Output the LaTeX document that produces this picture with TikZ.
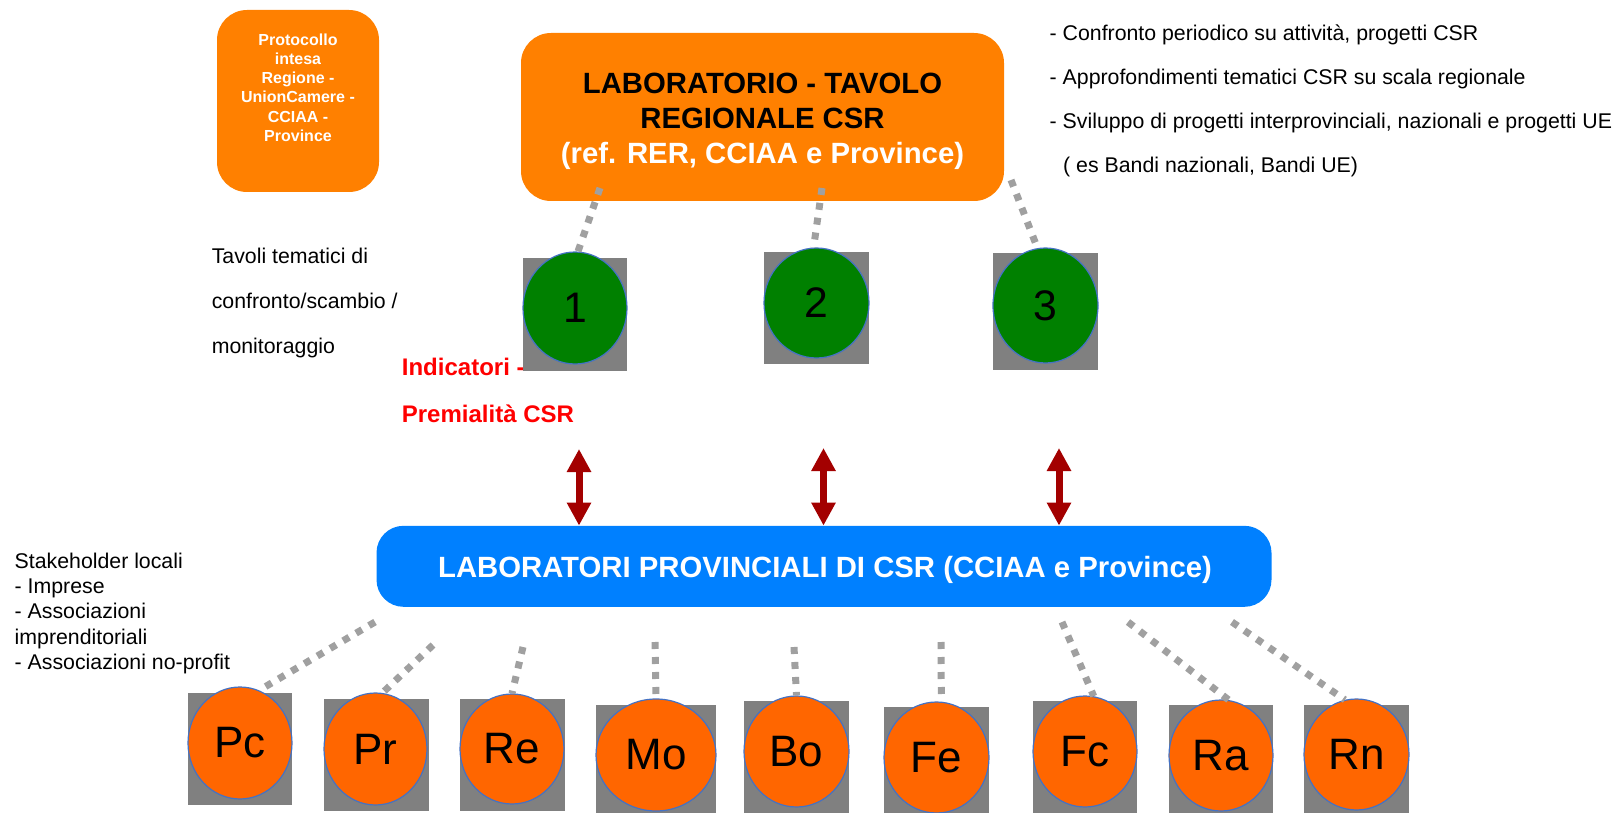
\documentclass[tikz,border=0pt]{standalone}
\usepackage{fontspec}
\setmainfont{Liberation Sans}
\usetikzlibrary{shapes.geometric,arrows.meta,calc}
\definecolor{orA}{RGB}{255,128,0}
\definecolor{orB}{RGB}{255,102,0}
\definecolor{grC}{RGB}{0,128,0}
\definecolor{blueB}{RGB}{0,128,255}
\definecolor{grayDot}{RGB}{160,160,160}
\definecolor{graySq}{RGB}{128,128,128}
\definecolor{arrR}{RGB}{163,0,0}
\definecolor{edgeB}{RGB}{68,114,196}
\definecolor{redT}{RGB}{255,0,0}
\begin{document}
\begin{tikzpicture}[x=1pt,y=-1pt,
  sq/.style={fill=graySq, draw=none, inner sep=0},
  gcirc/.style={ellipse, fill=grC, draw=edgeB, line width=1.2pt, inner sep=0, font=\fontsize{42.7}{42.7}\selectfont},
  ocirc/.style={ellipse, fill=orB, draw=edgeB, line width=1.2pt, inner sep=0, font=\fontsize{44}{44}\selectfont},
  dotline/.style={draw=grayDot, line width=7pt, dash pattern=on 7pt off 8pt},
  biarrow/.style={draw=arrR, line width=7pt, {Triangle[length=23pt,width=23pt]}-{Triangle[length=23pt,width=23pt]}},
  txt/.style={anchor=base west, inner sep=0, font=\fontsize{21.3}{25}\selectfont},
  redtxt/.style={anchor=base west, inner sep=0, text=redT, font=\bfseries\fontsize{24}{28}\selectfont},
  obox/.style={fill=orA, draw=none, rounded corners=30pt, inner sep=0},
  titletxt/.style={inner sep=0, align=center, font=\bfseries\fontsize{29.3}{35}\selectfont},
]
\useasboundingbox (0,0) rectangle (1618,813);

% Protocollo box
\node[obox, minimum width=162pt, minimum height=182pt] (prot) at (298,101) {};
\node[anchor=north, inner sep=0, align=center, text=white, font=\bfseries\fontsize{16}{19.2}\selectfont] (prottxt) at (298,33.5) {Protocollo\\intesa\\Regione -\\UnionCamere -\\CCIAA -\\Province};

% Regional box
\node[obox, minimum width=483pt, minimum height=168pt] (reg) at (762.5,117) {};
\node[titletxt] (regtxt) at (762.5,121) {LABORATORIO - TAVOLO\\REGIONALE CSR\\\textcolor{white}{(ref. RER, CCIAA e Province)}};

% Right list
\node[txt] (r1) at (1049.5,40.5) {- Confronto periodico su attività, progetti CSR};
\node[txt] (r2) at (1049.5,85) {- Approfondimenti tematici CSR su scala regionale};
\node[txt] (r3) at (1049.5,128.5) {- Sviluppo di progetti interprovinciali, nazionali e progetti UE};
\node[txt] (r4) at (1063,172.5) {( es Bandi nazionali, Bandi UE)};

% Left texts
\node[txt] (tv1) at (211.6,263.5) {Tavoli tematici di};
\node[txt] (tv2) at (211.6,308.5) {confronto/scambio /};
\node[txt] (tv3) at (211.6,353) {monitoraggio};
\node[redtxt] (ind1) at (401.7,375.5) {Indicatori -};
\node[redtxt] (ind2) at (401.7,422.5) {Premialità CSR};

\node[txt] (sh1) at (14.5,568.5) {Stakeholder locali};
\node[txt] (sh2) at (14.5,593.5) {- Imprese};
\node[txt] (sh3) at (14.5,618.5) {- Associazioni};
\node[txt] (sh4) at (14.5,644.5) {imprenditoriali};
\node[txt] (sh5) at (14.5,669.5) {- Associazioni no-profit};

% Green tables
\node[sq, minimum width=104pt, minimum height=113pt] (s1) at (575,314.5) {};
\node[gcirc, minimum width=104pt, minimum height=112pt] (c1) at (575,308) {1};
\node[sq, minimum width=105pt, minimum height=112pt] (s2) at (816.5,308) {};
\node[gcirc, minimum width=105pt, minimum height=110pt] (c2) at (816.5,303) {2};
\node[sq, minimum width=105pt, minimum height=116pt] (s3) at (1045.5,311.5) {};
\node[gcirc, minimum width=105pt, minimum height=115pt] (c3) at (1045.5,305.5) {3};

% dotted connectors top
\coordinate (t1) at (600,188);
\coordinate (t2) at (822,188);
\coordinate (t3) at (1011,180);
\draw[dotline] (t1) -- (c1.87);
\draw[dotline] (t2) -- (c2.93);
\draw[dotline] (t3) -- (c3.98);

% Blue box
\node[fill=blueB, draw=none, rounded corners=27pt, minimum width=895pt, minimum height=81pt, inner sep=0] (lab) at (824,566.3) {};
\node[titletxt, text=white] (labtxt) at (825,569.5) {LABORATORI PROVINCIALI DI CSR (CCIAA e Province)};

% arrows
\coordinate (a1) at (579,449);
\coordinate (a2) at (823.5,448);
\coordinate (a3) at (1059,448);
\draw[biarrow] (a1) -- (a1 |- lab.north);
\draw[biarrow] (a2) -- (a2 |- lab.north);
\draw[biarrow] (a3) -- (a3 |- lab.north);

% Provinces
\node[sq, minimum width=104pt, minimum height=112pt] (spc) at (240,749) {};
\node[ocirc, minimum width=104pt, minimum height=112pt] (pc) at (240,743) {Pc};
\node[sq, minimum width=105pt, minimum height=112pt] (spr) at (376.5,755) {};
\node[ocirc, minimum width=103pt, minimum height=112pt] (pr) at (375.5,749) {Pr};
\node[sq, minimum width=105pt, minimum height=112pt] (sre) at (512.5,755) {};
\node[ocirc, minimum width=104pt, minimum height=110pt] (re) at (512,749) {Re};
\node[sq, minimum width=120pt, minimum height=112pt] (smo) at (656,761) {};
\node[ocirc, minimum width=120pt, minimum height=112pt] (mo) at (656,755) {Mo};
\node[sq, minimum width=105pt, minimum height=112pt] (sbo) at (796.5,757) {};
\node[ocirc, minimum width=105pt, minimum height=111pt] (bo) at (796.5,751.5) {Bo};
\node[sq, minimum width=105pt, minimum height=112pt] (sfe) at (936.5,763) {};
\node[ocirc, minimum width=105pt, minimum height=111pt] (fe) at (936.5,757.5) {Fe};
\node[sq, minimum width=104pt, minimum height=112pt] (sfc) at (1085,757) {};
\node[ocirc, minimum width=104pt, minimum height=111pt] (fc) at (1085,751.5) {Fc};
\node[sq, minimum width=104pt, minimum height=112pt] (sra) at (1221,761) {};
\node[ocirc, minimum width=104pt, minimum height=111pt] (ra) at (1221,755.5) {Ra};
\node[sq, minimum width=105pt, minimum height=112pt] (srn) at (1356.5,761) {};
\node[ocirc, minimum width=105pt, minimum height=111pt] (rn) at (1356.5,754.5) {Rn};

% dotted connectors bottom
\coordinate (bpc) at (375,622);
\coordinate (bpr) at (433,645);
\coordinate (bre) at (523,647);
\coordinate (bmo) at (655,642);
\coordinate (bbo) at (794,647);
\coordinate (bfe) at (941,642);
\coordinate (bfc) at (1062,622);
\coordinate (bra) at (1128,622);
\coordinate (brn) at (1232,622);
\draw[dotline] (bpc) -- (pc.70);
\draw[dotline] (bpr) -- (pr.83);
\draw[dotline] (bre) -- (re.north);
\draw[dotline] (bmo) -- (mo.north);
\draw[dotline] (bbo) -- (bo.north);
\draw[dotline] (bfe) -- (fe.85);
\draw[dotline] (bfc) -- (fc.81);
\draw[dotline] (bra) -- (ra.82);
\draw[dotline] (brn) -- (rn.102);
\end{tikzpicture}
\end{document}
